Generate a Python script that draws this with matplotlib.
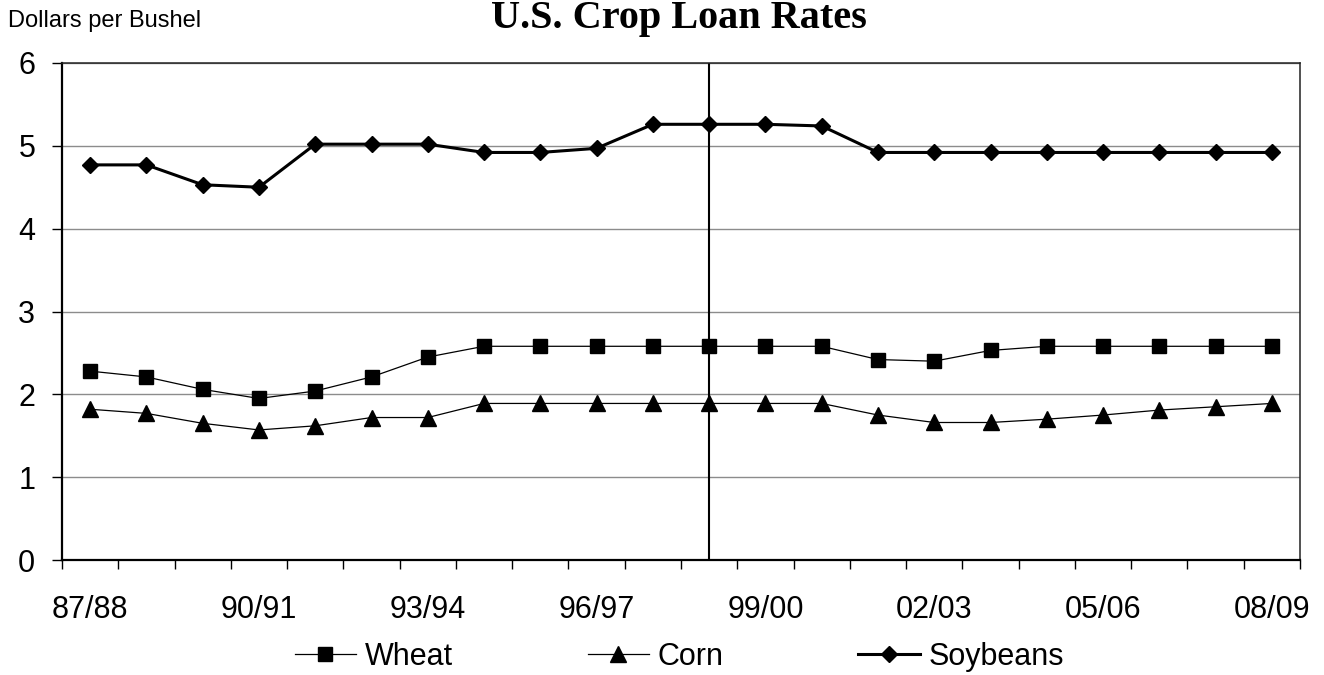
import matplotlib
matplotlib.use("Agg")
import matplotlib.pyplot as plt
from matplotlib.ticker import FixedLocator, NullFormatter

years = ["87/88", "88/89", "89/90", "90/91", "91/92", "92/93", "93/94", "94/95",
         "95/96", "96/97", "97/98", "98/99", "99/00", "00/01", "01/02", "02/03",
         "03/04", "04/05", "05/06", "06/07", "07/08", "08/09"]
wheat = [2.28, 2.21, 2.06, 1.95, 2.04, 2.21, 2.45, 2.58, 2.58, 2.58, 2.58, 2.58,
         2.58, 2.58, 2.42, 2.40, 2.53, 2.58, 2.58, 2.58, 2.58, 2.58]
corn = [1.82, 1.77, 1.65, 1.57, 1.62, 1.72, 1.72, 1.89, 1.89, 1.89, 1.89, 1.89,
        1.89, 1.89, 1.75, 1.66, 1.66, 1.70, 1.75, 1.81, 1.85, 1.89]
soybeans = [4.77, 4.77, 4.53, 4.50, 5.02, 5.02, 5.02, 4.92, 4.92, 4.97, 5.26, 5.26,
            5.26, 5.24, 4.92, 4.92, 4.92, 4.92, 4.92, 4.92, 4.92, 4.92]
label_every = 3
marker_year = "98/99"

plt.rcParams['font.family'] = ['Liberation Sans', 'DejaVu Sans']

W, H = 1324, 675
fig = plt.figure(figsize=(W / 100, H / 100), dpi=100)
left, right, bottom, top = 62, 1300, 560, 63
ax = fig.add_axes([left / W, 1 - bottom / H, (right - left) / W, (bottom - top) / H])

x = list(range(len(years)))
l1, = ax.plot(x, wheat, color='black', lw=0.9, marker='s', ms=10.5, zorder=3, label='Wheat')
l2, = ax.plot(x, corn, color='black', lw=0.9, marker='^', ms=11, zorder=3, label='Corn')
l3, = ax.plot(x, soybeans, color='black', lw=2.2, marker='D', ms=8.2, zorder=3, label='Soybeans')

ax.axvline(years.index(marker_year), color='black', lw=1.5, zorder=2)

ax.set_xlim(-0.5, len(years) - 0.5)
ax.set_ylim(0, 6)
ax.set_yticks(range(0, 7))
ax.yaxis.grid(True, color='#8c8c8c', lw=1.0, zorder=0)
ax.set_axisbelow(True)

major = list(range(0, len(years), label_every))
ax.xaxis.set_major_locator(FixedLocator(major))
ax.set_xticklabels([years[i] for i in major])
ax.xaxis.set_minor_locator(FixedLocator([i - 0.5 for i in range(len(years) + 1)]))
ax.xaxis.set_minor_formatter(NullFormatter())
ax.tick_params(axis='x', which='major', length=0, pad=25, labelsize=22)
ax.tick_params(axis='x', which='minor', length=6.5, width=1.0, direction='out')
ax.tick_params(axis='y', which='major', length=7.2, width=1.0, pad=12, labelsize=22)

for s in ['left', 'bottom']:
    ax.spines[s].set_linewidth(1.6)
    ax.spines[s].set_color('black')
for s in ['top', 'right']:
    ax.spines[s].set_linewidth(1.1)
    ax.spines[s].set_color('#222222')

fig.text(678.5 / W, 1 - 28 / H, "U.S. Crop Loan Rates", ha='center', va='baseline',
         fontsize=29, fontweight='bold', family=['Liberation Serif', 'DejaVu Serif'])
fig.text(8 / W, 1 - 27 / H, "Dollars per Bushel", ha='left', va='baseline', fontsize=17)

fig.legend(handles=[l1, l2, l3], loc='center', bbox_to_anchor=(679.5 / W, 1 - 657 / H),
           ncol=3, frameon=False, fontsize=22, handlelength=2.0, handletextpad=0.3,
           columnspacing=4.4, borderpad=0, borderaxespad=0)

fig.savefig("out.png", dpi=100)
